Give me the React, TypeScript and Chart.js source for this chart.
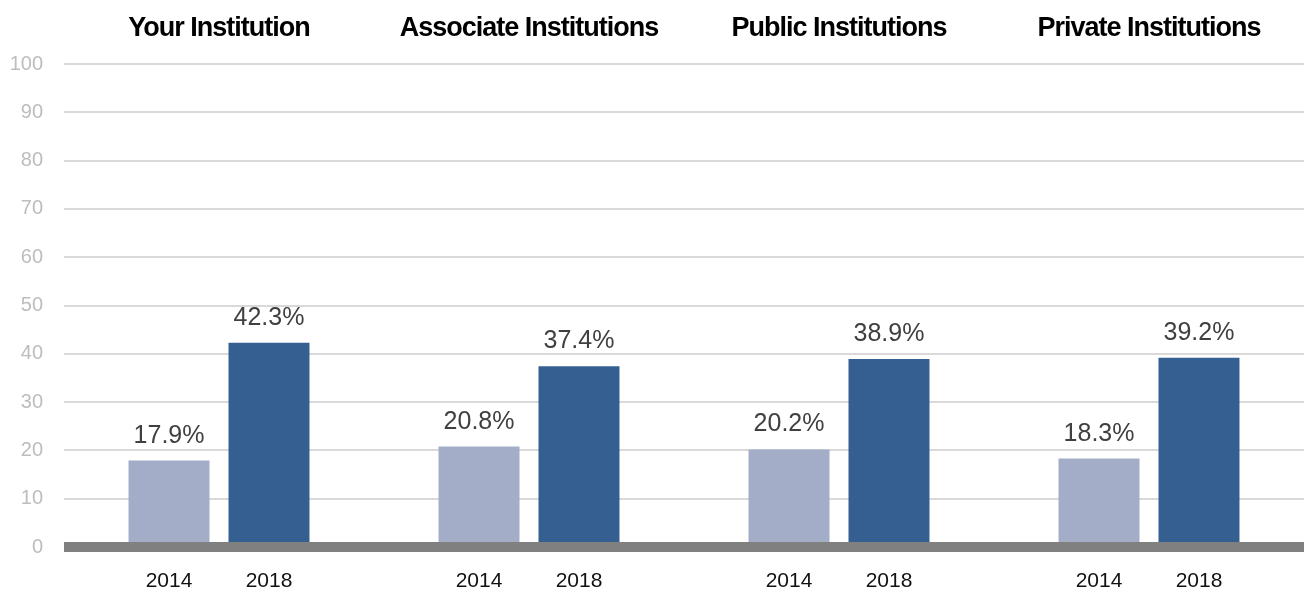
import React, { useEffect, useRef } from "react";
import { Chart, registerables } from "chart.js";

Chart.register(...registerables);

const groups = ["Your Institution", "Associate Institutions", "Public Institutions", "Private Institutions"];
const years = ["2014", "2018"];
const values2014 = [17.9, 20.8, 20.2, 18.3];
const values2018 = [42.3, 37.4, 38.9, 39.2];
const yMin = 0;
const yMax = 100;
const yStep = 10;

const FONT = "'Liberation Sans', Arial, sans-serif";

const overlayPlugin = {
  id: "overlay",
  afterDatasetsDraw(chart: any) {
    const ctx = chart.ctx;
    const xs = chart.scales.x;
    const ys = chart.scales.y;
    const area = chart.chartArea;
    ctx.save();
    // thick baseline at zero
    const y0 = ys.getPixelForValue(0);
    ctx.strokeStyle = "#808080";
    ctx.lineWidth = 10;
    ctx.beginPath();
    ctx.moveTo(area.left, y0);
    ctx.lineTo(area.right, y0);
    ctx.stroke();

    // group titles
    ctx.fillStyle = "#000000";
    ctx.font = `bold 27px ${FONT}`;
    ctx.textAlign = "center";
    ctx.textBaseline = "alphabetic";
    try { (ctx as any).letterSpacing = "-1px"; } catch (e) {}
    groups.forEach((g, i) => {
      ctx.fillText(g, xs.getPixelForValue(i), 36);
    });
    try { (ctx as any).letterSpacing = "0px"; } catch (e) {}

    // value labels and year labels
    chart.data.datasets.forEach((ds: any, di: number) => {
      const meta = chart.getDatasetMeta(di);
      meta.data.forEach((el: any, i: number) => {
        const v = ds.data[i];
        ctx.fillStyle = "#404040";
        ctx.font = `25px ${FONT}`;
        ctx.textAlign = "center";
        ctx.textBaseline = "alphabetic";
        ctx.fillText(v.toFixed(1) + "%", el.x, el.y - 18);
        ctx.fillStyle = "#111111";
        ctx.font = `21px ${FONT}`;
        ctx.fillText(years[di], el.x, 587);
      });
    });
    ctx.restore();
  },
};

export default function App() {
  const canvasRef = useRef<HTMLCanvasElement | null>(null);

  useEffect(() => {
    document.body.style.margin = "0";
    const canvas = canvasRef.current;
    if (!canvas) return;
    const chart = new Chart(canvas, {
      type: "bar",
      data: {
        labels: groups,
        datasets: [
          {
            label: years[0],
            data: values2014,
            backgroundColor: "#a4adc8",
            categoryPercentage: 0.645,
            barPercentage: 0.81,
          },
          {
            label: years[1],
            data: values2018,
            backgroundColor: "#355f91",
            categoryPercentage: 0.645,
            barPercentage: 0.81,
          },
        ],
      },
      options: {
        animation: false,
        responsive: true,
        maintainAspectRatio: false,
        layout: { padding: { top: 64, bottom: 46, left: 0, right: 0 } },
        plugins: {
          legend: { display: false },
          tooltip: { enabled: false },
          title: { display: false },
        },
        scales: {
          x: {
            display: false,
          },
          y: {
            min: yMin,
            max: yMax,
            afterFit: (scale: any) => {
              scale.width = 64;
            },
            ticks: {
              stepSize: yStep,
              color: "#bdbdbd",
              padding: 21,
              font: { family: FONT, size: 20 },
            },
            grid: {
              color: "#d9d9d9",
              lineWidth: 2,
              drawTicks: false,
            },
            border: { display: false },
          },
        },
      },
      plugins: [overlayPlugin],
    });
    return () => chart.destroy();
  }, []);

  return (
    <div style={{ width: 1304, height: 593, position: "relative" }}>
      <canvas ref={canvasRef} />
    </div>
  );
}
